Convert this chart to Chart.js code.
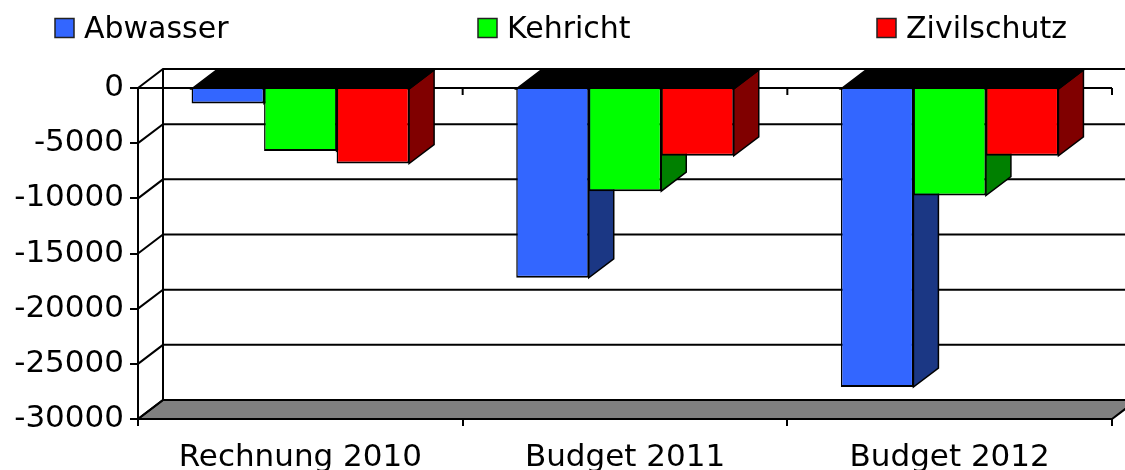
<!DOCTYPE html>
<html>
<head>
<meta charset="utf-8">
<script src="https://cdn.jsdelivr.net/npm/chart.js@4.4.1/dist/chart.umd.min.js"></script>
<style>
  html, body { margin: 0; padding: 0; background: #fff; }
  #wrap { width: 1125px; height: 470px; position: relative; }
</style>
</head>
<body>
<div id="wrap"><canvas id="chart"></canvas></div>
<script>
// values
const categories = ['Rechnung 2010', 'Budget 2011', 'Budget 2012'];
const abwasser = [-1400, -17200, -27100];
const kehricht = [-5700, -9350, -9750];
const zivilschutz = [-6850, -6150, -6150];
const yTicks = [0, -5000, -10000, -15000, -20000, -25000, -30000];

const seriesNames = ['Abwasser', 'Kehricht', 'Zivilschutz'];
const frontColors = ['#3366ff', '#00ff00', '#ff0000'];
const sideColors = ['#1b3784', '#008000', '#800000'];

const DEPTH_X = 25;
const DEPTH_Y = -19;
const FONT = '"DejaVu Sans", Verdana, sans-serif';

// back wall, side wall, floor and the zero line in front
const walls3d = {
  id: 'walls3d',
  beforeDatasetsDraw(chart) {
    const ctx = chart.ctx;
    const area = chart.chartArea;
    const xs = chart.scales.x;
    const ys = chart.scales.y;
    const yBottom = ys.getPixelForValue(ys.min);
    const yZero = ys.getPixelForValue(0);

    ctx.save();
    ctx.strokeStyle = '#000';
    ctx.lineWidth = 2;

    // floor
    ctx.beginPath();
    ctx.moveTo(area.left, yBottom);
    ctx.lineTo(area.right, yBottom);
    ctx.lineTo(area.right + DEPTH_X, yBottom + DEPTH_Y);
    ctx.lineTo(area.left + DEPTH_X, yBottom + DEPTH_Y);
    ctx.closePath();
    ctx.fillStyle = '#808080';
    ctx.fill();
    ctx.stroke();

    // grid on back wall + slanted lines on the left wall
    yTicks.forEach(v => {
      const py = ys.getPixelForValue(v);
      ctx.beginPath();
      ctx.moveTo(area.left, py);
      ctx.lineTo(area.left + DEPTH_X, py + DEPTH_Y);
      ctx.lineTo(chart.width + DEPTH_X, py + DEPTH_Y);
      ctx.stroke();
    });
    ctx.beginPath();
    ctx.moveTo(area.left + DEPTH_X, yZero + DEPTH_Y);
    ctx.lineTo(area.left + DEPTH_X, yBottom + DEPTH_Y);
    ctx.stroke();

    // front zero line with ticks at category boundaries
    const step = xs.getPixelForValue(1) - xs.getPixelForValue(0);
    ctx.beginPath();
    ctx.moveTo(area.left, yZero);
    ctx.lineTo(area.right, yZero);
    for (let i = 0; i <= categories.length; i++) {
      const bx = xs.getPixelForValue(i) - step / 2;
      ctx.moveTo(bx, yZero);
      ctx.lineTo(bx, yZero + 7);
    }
    ctx.stroke();

    // side and top faces of the bars, left to right
    ctx.lineWidth = 1.5;
    categories.forEach((c, i) => {
      chart.data.datasets.forEach((ds, j) => {
        const el = chart.getDatasetMeta(j).data[i];
        const p = el.getProps(['x', 'y', 'base', 'width'], true);
        const l = p.x - p.width / 2;
        const r = p.x + p.width / 2;
        ctx.beginPath();
        ctx.moveTo(r, p.base);
        ctx.lineTo(r + DEPTH_X, p.base + DEPTH_Y);
        ctx.lineTo(r + DEPTH_X, p.y + DEPTH_Y);
        ctx.lineTo(r, p.y);
        ctx.closePath();
        ctx.fillStyle = sideColors[j];
        ctx.fill();
        ctx.stroke();

        ctx.beginPath();
        ctx.moveTo(l, p.base);
        ctx.lineTo(r, p.base);
        ctx.lineTo(r + DEPTH_X, p.base + DEPTH_Y);
        ctx.lineTo(l + DEPTH_X, p.base + DEPTH_Y);
        ctx.closePath();
        ctx.fillStyle = '#000';
        ctx.fill();
        ctx.stroke();
      });
    });
    ctx.restore();
  }
};

// legend in one row, item starts as in the reference
const LEG_X = [55, 478, 877];
const LEG_BOX = 19;
const LEG_GAP = 10;
const wideLegend = {
  id: 'wideLegend',
  afterDraw(chart) {
    const ctx = chart.ctx;
    ctx.save();
    ctx.font = '30px ' + FONT;
    chart.data.datasets.forEach((d, i) => {
      const px = LEG_X[i];
      ctx.fillStyle = d.backgroundColor;
      ctx.fillRect(px, 18.5, LEG_BOX, LEG_BOX);
      ctx.strokeStyle = '#222';
      ctx.lineWidth = 1.5;
      ctx.strokeRect(px, 18.5, LEG_BOX, LEG_BOX);
      ctx.fillStyle = '#000';
      ctx.textBaseline = 'alphabetic';
      ctx.fillText(d.label, px + LEG_BOX + LEG_GAP, 38);
    });
    ctx.restore();
  }
};

const seriesValues = [abwasser, kehricht, zivilschutz];

new Chart(document.getElementById('chart'), {
  type: 'bar',
  data: {
    labels: categories,
    datasets: seriesValues.map((vals, j) => ({
      label: seriesNames[j],
      data: vals,
      backgroundColor: frontColors[j],
      borderColor: '#000',
      borderWidth: { top: 0, left: 1.5, right: 1.5, bottom: 2 },
      borderSkipped: false,
      categoryPercentage: 0.67,
      barPercentage: 1,
    })),
  },
  options: {
    responsive: true,
    maintainAspectRatio: false,
    animation: false,
    layout: { padding: { top: 88, right: 13, left: 0, bottom: 0 } },
    plugins: {
      legend: { display: false },
      tooltip: { enabled: false },
    },
    scales: {
      x: {
        afterFit: s => { s.height = 51; },
        border: { color: '#000', width: 2 },
        grid: { offset: true, drawOnChartArea: false, color: '#000', lineWidth: 2, tickLength: 7 },
        ticks: { color: '#000', font: { family: FONT, size: 31 }, padding: 13 },
      },
      y: {
        min: -30000,
        max: 0,
        afterBuildTicks: s => { s.ticks = yTicks.map(v => ({ value: v })); },
        afterFit: s => { s.width = 138; },
        border: { color: '#000', width: 2 },
        grid: { drawOnChartArea: false, color: '#000', lineWidth: 2, tickLength: 8 },
        ticks: { color: '#000', font: { family: FONT, size: 31 }, padding: 6, callback: v => String(v) },
      },
    },
  },
  plugins: [walls3d, wideLegend],
});
</script>
</body>
</html>
